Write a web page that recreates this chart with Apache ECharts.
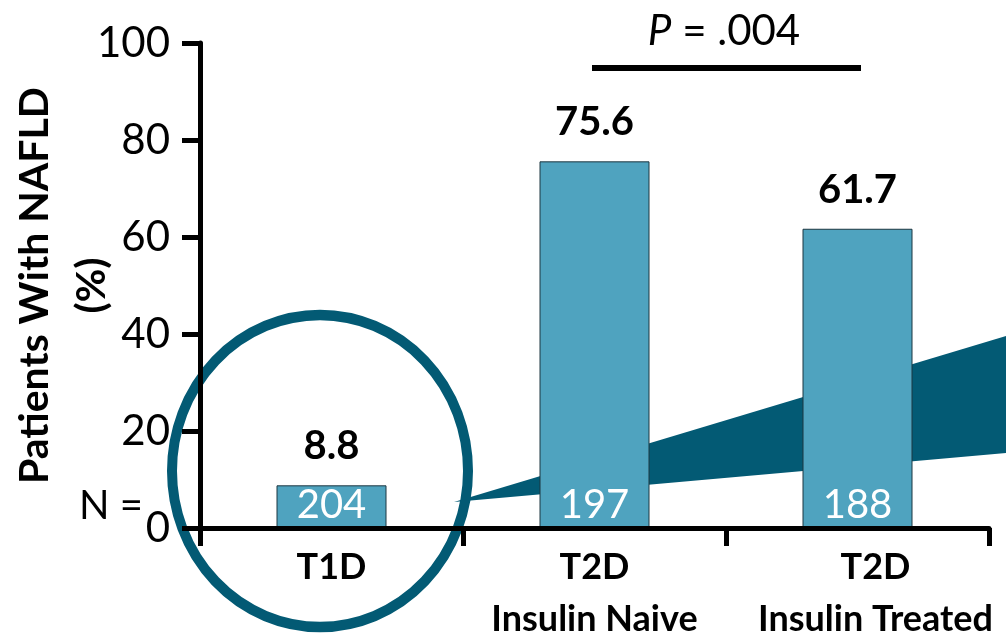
<!DOCTYPE html>
<html>
<head>
<meta charset="utf-8">
<script src="https://cdn.jsdelivr.net/npm/echarts@6/dist/echarts.min.js"></script>
<style>
  html, body { margin: 0; padding: 0; background: #fff; }
  #chart { width: 1006px; height: 635px; }
</style>
</head>
<body>
<div id="chart"></div>
<script>
// 数据
const categories = ['T1D', 'T2D\nInsulin Naive', 'T2D\nInsulin Treated']
const nafldPct = [8.8, 75.6, 61.7]
const patientsN = [204, 197, 188]
const yMin = 0
const yMax = 100
const yStep = 20
const pValueText = '.004'

const FONT = 'Lato'
const barColor = '#4fa3bf'
const darkTeal = '#035a74'

const chart = echarts.init(document.getElementById('chart'), null, { renderer: 'canvas' })

chart.setOption({
  animation: false,
  grid: { left: 200, right: 17, top: 43, bottom: 107, containLabel: false, outerBoundsMode: 'none' },
  xAxis: {
    type: 'category',
    data: categories,
    z: 5,
    axisLine: { lineStyle: { color: '#000', width: 5 } },
    axisTick: { show: true, length: 18, lineStyle: { color: '#000', width: 5 } },
    axisLabel: {
      interval: 0,
      hideOverlap: false,
      margin: 13,
      fontFamily: FONT,
      fontWeight: 'bold',
      fontSize: 36,
      lineHeight: 52,
      color: '#000',
      formatter: (v, i) => {
        // 第三个标签在原图中略偏右
        if (i === 2) return v.split('\n').map(s => `{r|${s}}`).join('\n')
        return v
      },
      rich: {
        r: { fontFamily: FONT, fontWeight: 'bold', fontSize: 36, lineHeight: 52, color: '#000', padding: [0, 0, 0, 36] }
      }
    }
  },
  yAxis: {
    type: 'value',
    min: yMin,
    max: yMax,
    interval: yStep,
    z: 5,
    name: 'Patients With NAFLD\n(%)',
    nameLocation: 'middle',
    nameRotate: 90,
    nameGap: 80,
    nameMoveOverlap: false,
    nameTextStyle: { fontFamily: FONT, fontWeight: 'bold', fontSize: 41, lineHeight: 57, color: '#000' },
    splitLine: { show: false },
    axisLine: { show: true, lineStyle: { color: '#000', width: 5 } },
    axisTick: { show: true, length: 18, lineStyle: { color: '#000', width: 5 } },
    axisLabel: { margin: 30, fontFamily: FONT, fontSize: 42, color: '#000' }
  },
  series: [
    {
      type: 'bar',
      data: nafldPct,
      barWidth: 110,
      barGap: '-100%',
      z: 2,
      itemStyle: { color: barColor, borderColor: '#1c3640', borderWidth: 1 },
      label: {
        show: true,
        position: 'top',
        distance: 19,
        fontFamily: FONT,
        fontWeight: 'bold',
        fontSize: 40,
        color: '#000',
        formatter: p => p.value.toFixed(1)
      }
    },
    {
      type: 'bar',
      data: nafldPct,
      barWidth: 110,
      z: 3,
      itemStyle: { color: 'transparent' },
      label: {
        show: true,
        position: 'insideBottom',
        distance: 3,
        fontFamily: FONT,
        fontSize: 40,
        color: '#fff',
        formatter: p => String(patientsN[p.dataIndex])
      }
    }
  ],
  graphic: [
    // 放大楔形
    {
      type: 'polygon',
      z: 1,
      shape: { points: [[454, 502], [1006, 336], [1006, 453]] },
      style: { fill: darkTeal }
    },
    // T1D 圈
    {
      type: 'circle',
      z: 1,
      x: 320,
      y: 471,
      scaleY: 156 / 148,
      shape: { cx: 0, cy: 0, r: 148 },
      style: { fill: 'none', stroke: darkTeal, lineWidth: 10 }
    },
    {
      type: 'text',
      x: 79,
      y: 506,
      style: { text: 'N =', fontFamily: FONT, fontSize: 40, fill: '#000', verticalAlign: 'middle' }
    },
    // P 值
    {
      type: 'line',
      shape: { x1: 592, y1: 68, x2: 861, y2: 68 },
      style: { stroke: '#000', lineWidth: 6 }
    },
    {
      type: 'text',
      x: 724,
      y: 31,
      style: {
        text: '{i|P} = ' + pValueText,
        align: 'center',
        verticalAlign: 'middle',
        fontFamily: FONT,
        fontSize: 42,
        fill: '#000',
        rich: { i: { fontFamily: FONT, fontStyle: 'italic', fontSize: 42, fill: '#000' } }
      }
    }
  ]
})
</script>
</body>
</html>
